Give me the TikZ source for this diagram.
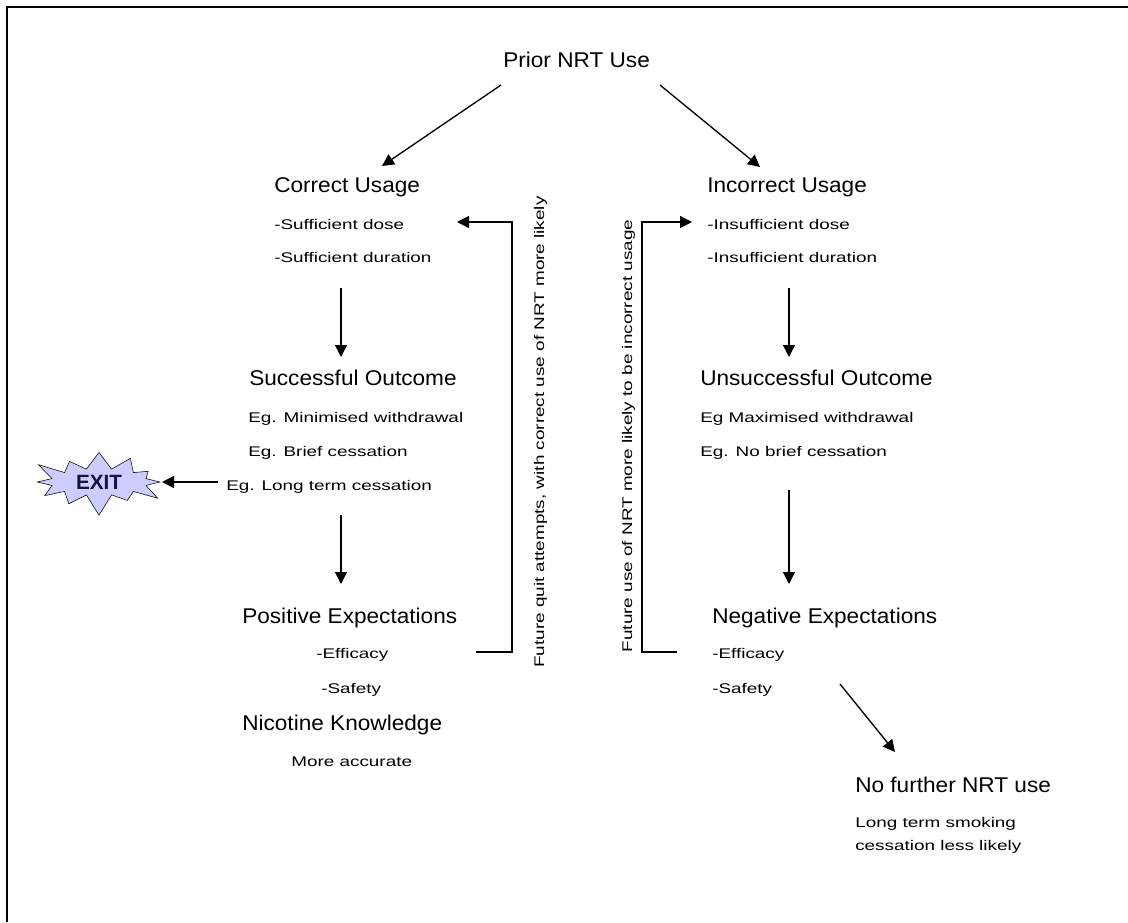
\documentclass[tikz,border=0pt]{standalone}
\usepackage{fontspec}
\setmainfont{Liberation Sans}
\newfontfamily\headf[FakeStretch=1.06]{Liberation Sans}
\newfontfamily\smallf[FakeStretch=1.35]{Liberation Sans}
\usetikzlibrary{arrows.meta,shapes.symbols}
\definecolor{exitfill}{RGB}{204,204,255}
\definecolor{exittext}{RGB}{20,20,60}
\tikzset{
  head/.style={font=\headf\fontsize{16}{19}\selectfont, inner sep=0pt, anchor=base west},
  sub/.style={font=\smallf\fontsize{10.5}{17}\selectfont, inner sep=0pt, anchor=base west},
  arr/.style={line width=1pt, -{Triangle[length=9pt,width=9pt]}},
  link/.style={line width=1pt},
  frame/.style={line width=1.6pt}
}
\begin{document}
\begin{tikzpicture}[x=0.75pt,y=-0.75pt]
\useasboundingbox (0,0) rectangle (1128,922);
\draw[frame] (7,922) -- (7,7) -- (1128,7);

% top
\node[head] (prior) at (503,67) {Prior NRT Use};

% left column
\node[head] (cu) at (274,192) {Correct Usage};
\node[sub] (cu1) at (274,229) {-Sufficient dose};
\node[sub] (cu2) at (274,262) {-Sufficient duration};
\node[head] (so) at (249,385) {Successful Outcome};
\node[sub] (so1) at (248,422) {Eg. Minimised withdrawal};
\node[sub] (so2) at (248,456) {Eg. Brief cessation};
\node[sub] (so3) at (226,490) {Eg. Long term cessation};
\node[head] (pe) at (242,623) {Positive Expectations};
\node[sub] (pe1) at (316,658) {-Efficacy};
\node[sub] (pe2) at (321,693) {-Safety};
\node[head] (nk) at (242,730) {Nicotine Knowledge};
\node[sub] (nk1) at (291,766) {More accurate};

\node[draw=black, fill=exitfill, starburst, starburst points=12,
      starburst point height=17pt, minimum width=107pt, minimum height=54pt,
      inner sep=1pt, text=exittext, font=\bfseries\fontsize{15.5}{18}\selectfont] (exit) at (99,482) {EXIT};

% right column
\node[head] (iu) at (707,192) {Incorrect Usage};
\node[sub] (iu1) at (707,229) {-Insufficient dose};
\node[sub] (iu2) at (707,262) {-Insufficient duration};
\node[head] (uo) at (700,385) {Unsuccessful Outcome};
\node[sub] (uo1) at (700,422) {Eg Maximised withdrawal};
\node[sub] (uo2) at (700,456) {Eg. No brief cessation};
\node[head] (ne) at (712,623) {Negative Expectations};
\node[sub] (ne1) at (712,658) {-Efficacy};
\node[sub] (ne2) at (712,693) {-Safety};
\node[head] (nf) at (855,792) {No further NRT use};
\node[sub] (nf1) at (855,827) {Long term smoking};
\node[sub] (nf2) at (855,850) {cessation less likely};

% rotated labels
\node[sub, anchor=base, rotate=90] (lblL) at (544,432) {Future quit attempts, with correct use of NRT more likely};
\node[sub, anchor=base, rotate=90] (lblR) at (632,436) {Future use of NRT more likely to be incorrect usage};

% connector points
\coordinate (p1) at (501,85);
\coordinate (c1) at (382,166);
\coordinate (p2) at (660,85);
\coordinate (c2) at (760,167);
\coordinate (a1s) at (341,288); \coordinate (a1e) at (341,357);
\coordinate (a2s) at (341,515); \coordinate (a2e) at (341,584);
\coordinate (a3s) at (789,288); \coordinate (a3e) at (789,357);
\coordinate (a4s) at (789,490); \coordinate (a4e) at (789,584);
\coordinate (xs) at (218,482); \coordinate (xe) at (162,482);
\coordinate (dS) at (840,684); \coordinate (dE) at (895,752);
\coordinate (fl0) at (476,652); \coordinate (fl1) at (512,652);
\coordinate (fl2) at (512,222); \coordinate (fl3) at (457,222);
\coordinate (fr0) at (677,652); \coordinate (fr1) at (642,652);
\coordinate (fr2) at (642,222); \coordinate (fr3) at (692,222);

\draw[arr] (p1) -- (c1);
\draw[arr] (p2) -- (c2);
\draw[arr] (a1s) -- (a1e);
\draw[arr] (a2s) -- (a2e);
\draw[arr] (a3s) -- (a3e);
\draw[arr] (a4s) -- (a4e);
\draw[arr] (xs) -- (xe);
\draw[arr] (dS) -- (dE);
\draw[arr] (fl0) -- (fl1) -- (fl2) -- (fl3);
\draw[arr] (fr0) -- (fr1) -- (fr2) -- (fr3);
\end{tikzpicture}
\end{document}
